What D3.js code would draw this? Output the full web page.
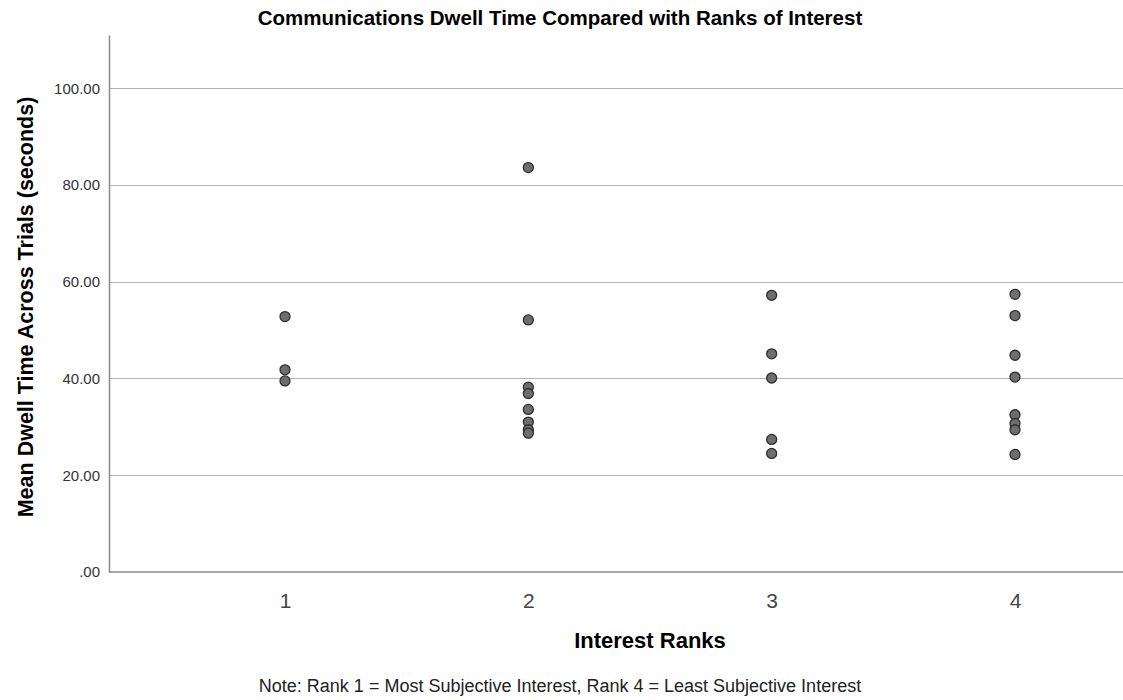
<!DOCTYPE html>
<html>
<head>
<meta charset="utf-8">
<script src="https://cdn.jsdelivr.net/npm/d3@7"></script>
<style>
  body { margin: 0; background: #fff; }
  svg { display: block; font-family: "Liberation Sans", Arial, sans-serif; }
</style>
</head>
<body>
<div id="chart"></div>
<script>
// data
const ranks = [1, 2, 3, 4];
const rank1 = [52.8, 41.8, 39.5];
const rank2 = [83.6, 52.1, 38.2, 36.9, 33.6, 31.0, 29.4, 28.7];
const rank3 = [57.2, 45.1, 40.1, 27.4, 24.5];
const rank4 = [57.4, 53.0, 44.8, 40.3, 32.5, 30.7, 29.4, 24.3];
const yTicks = [0, 20, 40, 60, 80, 100];

const width = 1123, height = 700;
const plotLeft = 109, plotTop = 35, plotBottom = 572;

const points = [rank1, rank2, rank3, rank4].flatMap((vals, i) =>
  vals.map(v => ({ rank: ranks[i], value: v })));

const svg = d3.select("#chart").append("svg")
  .attr("width", width)
  .attr("height", height);

const x = d3.scaleLinear().domain([1, 4]).range([285, 1015]);
const y = d3.scaleLinear().domain([0, 111]).range([plotBottom, plotTop]);

// gridlines
svg.append("g")
  .selectAll("line")
  .data(yTicks.filter(d => d > 0))
  .enter()
  .append("line")
  .attr("x1", plotLeft)
  .attr("x2", width)
  .attr("y1", d => Math.round(y(d)) + 0.5)
  .attr("y2", d => Math.round(y(d)) + 0.5)
  .attr("stroke", "#b4b4b4")
  .attr("stroke-width", 1.2);

// y axis
const yAxis = svg.append("g")
  .attr("transform", `translate(${plotLeft},0)`)
  .call(d3.axisLeft(y).tickValues(yTicks).tickSize(0).tickPadding(9)
    .tickFormat(d => d === 0 ? ".00" : d3.format(".2f")(d)));
yAxis.select(".domain").attr("stroke", "#8a8a8a").attr("stroke-width", 1.5);
yAxis.selectAll("text")
  .attr("font-size", 15)
  .attr("fill", "#333");

// x axis
const xAxis = svg.append("g")
  .attr("transform", `translate(0,${plotBottom})`)
  .call(d3.axisBottom(x).tickValues(ranks).tickSize(0).tickPadding(0)
    .tickFormat(d3.format("d")));
xAxis.select(".domain").remove();
xAxis.append("line")
  .attr("x1", plotLeft)
  .attr("x2", width)
  .attr("stroke", "#8a8a8a")
  .attr("stroke-width", 1.5);
xAxis.selectAll("text")
  .attr("dy", null)
  .attr("y", 36)
  .attr("font-size", 21)
  .attr("fill", "#444");

// points
svg.append("g")
  .selectAll("circle")
  .data(points)
  .enter()
  .append("circle")
  .attr("cx", d => x(d.rank))
  .attr("cy", d => y(d.value))
  .attr("r", 5)
  .attr("fill", "#6e6e6e")
  .attr("stroke", "#2e2e2e")
  .attr("stroke-width", 1.3);

// titles
svg.append("text")
  .attr("x", 560)
  .attr("y", 25)
  .attr("text-anchor", "middle")
  .attr("font-size", 20.5)
  .attr("font-weight", "bold")
  .text("Communications Dwell Time Compared with Ranks of Interest");

svg.append("text")
  .attr("transform", `translate(33,307) rotate(-90)`)
  .attr("text-anchor", "middle")
  .attr("font-size", 21.5)
  .attr("font-weight", "bold")
  .text("Mean Dwell Time Across Trials (seconds)");

svg.append("text")
  .attr("x", 650)
  .attr("y", 648)
  .attr("text-anchor", "middle")
  .attr("font-size", 22)
  .attr("font-weight", "bold")
  .text("Interest Ranks");

svg.append("text")
  .attr("x", 560)
  .attr("y", 692)
  .attr("text-anchor", "middle")
  .attr("font-size", 18)
  .attr("fill", "#222")
  .text("Note: Rank 1 = Most Subjective Interest, Rank 4 = Least Subjective Interest");
</script>
</body>
</html>
